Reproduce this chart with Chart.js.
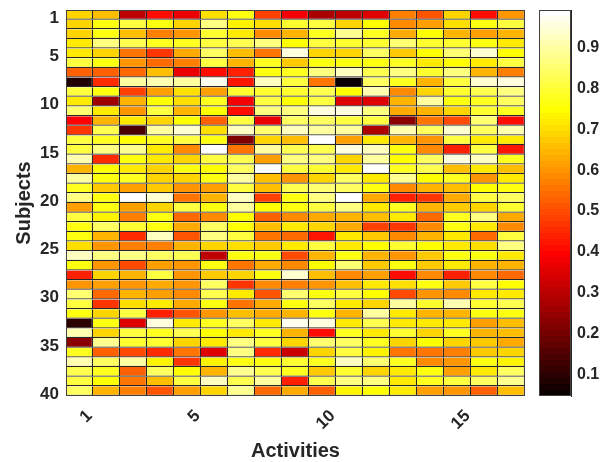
<!DOCTYPE html>
<html>
<head>
<meta charset="utf-8">
<script src="https://cdn.jsdelivr.net/npm/chart.js@4"></script>
<style>
  html, body { margin: 0; padding: 0; background: #fff; }
  #wrap { position: relative; width: 610px; height: 462px; }
  #heat { position: absolute; left: 0; top: 0; }
  #bar { position: absolute; left: 530px; top: 0; }
</style>
</head>
<body>
<div id="wrap">
  <canvas id="heat" width="530" height="462"></canvas>
  <canvas id="bar" width="80" height="462"></canvas>
</div>
<script>
const subjects = [];
for (let s = 1; s <= 40; s++) subjects.push(String(s));
const activities = [1, 2, 3, 4, 5, 6, 7, 8, 9, 10, 11, 12, 13, 14, 15, 16, 17];
const subjectTicks = ["1", "5", "10", "15", "20", "25", "30", "35", "40"];
const activityTicks = [1, 5, 10, 15];
const colorbarTicks = [0.1, 0.2, 0.3, 0.4, 0.5, 0.6, 0.7, 0.8, 0.9];
const colorMin = 0.044;
const colorMax = 0.99;

// one row per subject, one column per activity
const scores = [
  [.68,.66,.30,.40,.36,.70,.755,.48,.37,.28,.31,.35,.57,.51,.68,.40,.60],
  [.68,.76,.81,.76,.68,.87,.73,.70,.79,.80,.68,.74,.59,.62,.70,.76,.81],
  [.68,.76,.66,.57,.60,.79,.72,.58,.65,.77,.88,.77,.63,.74,.65,.61,.65],
  [.71,.87,.82,.78,.77,.81,.82,.86,.74,.80,.79,.79,.85,.79,.79,.76,.72],
  [.72,.68,.55,.46,.63,.84,.66,.56,.95,.69,.69,.83,.67,.75,.85,.94,.75],
  [.81,.76,.60,.54,.57,.81,.65,.77,.67,.76,.76,.76,.78,.71,.74,.71,.80],
  [.53,.52,.54,.66,.36,.40,.44,.76,.77,.87,.93,.82,.87,.79,.87,.65,.57],
  [.08,.45,.89,.91,.90,.97,.42,.92,.81,.55,.05,.83,.77,.64,.81,.94,.95],
  [.80,.76,.48,.62,.70,.62,.79,.79,.79,.82,.74,.91,.59,.68,.79,.82,.86],
  [.72,.26,.65,.74,.70,.77,.37,.80,.75,.80,.35,.35,.65,.89,.76,.77,.84],
  [.85,.72,.60,.80,.65,.74,.41,.87,.86,.95,.95,.87,.63,.65,.69,.79,.77],
  [.39,.65,.72,.68,.75,.53,.80,.36,.83,.84,.81,.80,.23,.56,.50,.85,.41],
  [.47,.82,.14,.89,.94,.70,.92,.85,.92,.90,.89,.28,.91,.84,.94,.83,.91],
  [.80,.78,.74,.78,.81,.76,.22,.68,.66,.98,.62,.72,.65,.60,.81,.71,.71],
  [.80,.87,.88,.71,.59,.99,.55,.90,.82,.82,.96,.92,.76,.59,.44,.80,.42],
  [.91,.45,.76,.72,.68,.80,.82,.62,.86,.86,.68,.89,.74,.84,.95,.92,.78],
  [.65,.74,.71,.68,.76,.74,.84,.99,.80,.79,.71,.98,.78,.82,.66,.71,.66],
  [.90,.76,.78,.68,.69,.76,.89,.66,.60,.68,.84,.72,.88,.75,.78,.60,.72],
  [.78,.67,.62,.67,.60,.62,.80,.66,.82,.85,.83,.76,.58,.64,.66,.74,.76],
  [.86,.76,.99,.94,.56,.65,.92,.48,.76,.87,.98,.63,.43,.47,.63,.80,.84],
  [.62,.76,.61,.69,.80,.76,.90,.74,.76,.80,.86,.72,.78,.64,.67,.69,.79],
  [.80,.73,.57,.76,.54,.58,.74,.52,.58,.63,.65,.66,.72,.54,.78,.87,.63],
  [.76,.84,.79,.76,.63,.83,.74,.66,.71,.68,.63,.48,.46,.58,.76,.72,.58],
  [.76,.65,.45,.92,.51,.86,.80,.55,.54,.42,.72,.67,.59,.64,.72,.54,.80],
  [.70,.60,.57,.57,.64,.69,.70,.67,.71,.80,.71,.74,.79,.74,.72,.70,.86],
  [.92,.86,.86,.83,.82,.30,.76,.76,.50,.64,.76,.65,.60,.67,.76,.76,.72],
  [.76,.60,.50,.61,.60,.76,.56,.63,.58,.74,.85,.67,.76,.67,.72,.64,.64],
  [.44,.68,.65,.81,.60,.67,.69,.76,.94,.66,.58,.62,.40,.58,.43,.59,.54],
  [.60,.62,.60,.63,.60,.84,.47,.59,.57,.60,.66,.71,.70,.76,.67,.80,.75],
  [.85,.54,.64,.62,.59,.82,.72,.51,.85,.76,.80,.75,.49,.60,.59,.71,.72],
  [.80,.47,.70,.72,.63,.76,.55,.63,.76,.84,.72,.69,.90,.79,.91,.79,.82],
  [.76,.68,.80,.44,.51,.60,.66,.63,.64,.76,.65,.89,.71,.65,.65,.76,.76],
  [.09,.76,.34,.96,.71,.78,.83,.71,.97,.95,.72,.82,.71,.72,.72,.62,.66],
  [.91,.69,.80,.77,.82,.74,.71,.78,.65,.40,.77,.72,.79,.69,.77,.64,.66],
  [.23,.88,.79,.79,.68,.71,.87,.81,.68,.85,.84,.77,.68,.74,.69,.67,.63],
  [.78,.53,.50,.45,.55,.34,.87,.45,.32,.69,.80,.73,.56,.56,.57,.67,.68],
  [.91,.83,.89,.73,.47,.73,.76,.76,.79,.78,.93,.85,.77,.59,.60,.76,.73],
  [.82,.78,.53,.84,.75,.64,.88,.82,.78,.67,.79,.68,.72,.76,.62,.72,.83],
  [.81,.75,.55,.66,.81,.92,.82,.90,.43,.82,.87,.87,.71,.77,.81,.84,.88],
  [.84,.65,.57,.51,.62,.68,.88,.54,.63,.53,.73,.75,.71,.62,.60,.53,.66]
];

const fontFamily = '"Liberation Sans", Arial, sans-serif';
const textColor = "#262626";

// matlab style hot map, 64 levels
function hotLevel(i) {
  const r = Math.min(1, (i + 1) / 24);
  const g = Math.min(1, Math.max(0, (i + 1 - 24) / 24));
  const b = Math.min(1, Math.max(0, (i + 1 - 48) / 16));
  return `rgb(${Math.round(r * 255)},${Math.round(g * 255)},${Math.round(b * 255)})`;
}

function hotColor(v) {
  const t = (v - colorMin) / (colorMax - colorMin);
  const i = Math.max(0, Math.min(63, Math.floor(t * 64)));
  return hotLevel(i);
}

// thin frame around the plot area
const frame = {
  id: "frame",
  afterDraw(chart) {
    const { ctx, chartArea: a } = chart;
    ctx.save();
    ctx.strokeStyle = "#404040";
    ctx.lineWidth = 1;
    ctx.strokeRect(a.left + 0.5, a.top + 0.5, a.width - 1, a.height - 1);
    ctx.restore();
  }
};

const cellDatasets = activities.map((a, col) => ({
  label: "Activity " + a,
  data: subjects.map(() => [a - 0.5, a + 0.5]),
  backgroundColor: scores.map(row => hotColor(row[col])),
  borderColor: "#262626",
  borderWidth: { right: 1.25, bottom: 1.25, left: 0, top: 0 },
  borderSkipped: false,
  inflateAmount: 0
}));

new Chart(document.getElementById("heat"), {
  type: "bar",
  data: { labels: subjects, datasets: cellDatasets },
  options: {
    indexAxis: "y",
    responsive: false,
    animation: false,
    layout: { padding: { left: 0, right: 5, top: 10, bottom: 0 } },
    plugins: { legend: { display: false }, tooltip: { enabled: false } },
    datasets: { bar: { grouped: false, barPercentage: 1, categoryPercentage: 1 } },
    scales: {
      x: {
        type: "linear",
        min: 0.5,
        max: 17.5,
        afterBuildTicks: scale => { scale.ticks = activityTicks.map(v => ({ value: v })); },
        afterFit: scale => { scale.height = 66; scale.paddingLeft = 0; scale.paddingRight = 0; },
        grid: { display: false, drawTicks: false },
        border: { display: false },
        ticks: {
          color: textColor,
          font: { family: fontFamily, size: 17, weight: "bold" },
          minRotation: 45,
          maxRotation: 45,
          padding: 10,
          labelOffset: 10,
          autoSkip: false,
          callback: v => String(v)
        },
        title: {
          display: true,
          text: "Activities",
          color: textColor,
          font: { family: fontFamily, size: 20, weight: "bold" },
          padding: { top: 0, bottom: -1 }
        }
      },
      y: {
        afterFit: scale => { scale.width = 66; scale.paddingTop = 0; scale.paddingBottom = 0; },
        grid: { display: false, drawTicks: false },
        border: { display: false },
        ticks: {
          color: textColor,
          font: { family: fontFamily, size: 17, weight: "bold" },
          autoSkip: false,
          padding: 7,
          labelOffset: 3,
          callback: function (v) {
            const label = this.getLabelForValue(v);
            return subjectTicks.includes(label) ? label : "";
          }
        },
        title: {
          display: true,
          text: "Subjects",
          color: textColor,
          font: { family: fontFamily, size: 20, weight: "bold" },
          padding: { top: 12, bottom: 0 }
        }
      }
    }
  },
  plugins: [frame]
});

function colorbarFill(context) {
  const area = context.chart.chartArea;
  if (!area) return "#000";
  const g = context.chart.ctx.createLinearGradient(0, area.bottom, 0, area.top);
  for (let i = 0; i < 64; i++) {
    g.addColorStop(i / 64, hotLevel(i));
    g.addColorStop((i + 1) / 64, hotLevel(i));
  }
  return g;
}

new Chart(document.getElementById("bar"), {
  type: "bar",
  data: {
    labels: ["scale"],
    datasets: [{
      data: [[colorMin, colorMax]],
      backgroundColor: colorbarFill,
      borderWidth: 0,
      inflateAmount: 0,
      barPercentage: 1,
      categoryPercentage: 1
    }]
  },
  options: {
    responsive: false,
    animation: false,
    layout: { padding: { left: 9, right: 0, top: 10, bottom: 66 } },
    plugins: {
      legend: { display: false },
      tooltip: { enabled: false }
    },
    scales: {
      x: { display: false },
      y: {
        position: "right",
        min: colorMin,
        max: colorMax,
        afterBuildTicks: scale => { scale.ticks = colorbarTicks.map(v => ({ value: v })); },
        afterFit: scale => { scale.width = 39; scale.paddingTop = 0; scale.paddingBottom = 0; },
        grid: { drawOnChartArea: false, drawTicks: true, tickLength: -4, color: "#262626", tickWidth: 1 },
        border: { display: true, color: "#262626" },
        ticks: {
          color: textColor,
          font: { family: fontFamily, size: 16, weight: "bold" },
          padding: 10,
          labelOffset: 1,
          autoSkip: false,
          callback: v => v.toFixed(1)
        }
      }
    }
  },
  plugins: [frame]
});
</script>
</body>
</html>
